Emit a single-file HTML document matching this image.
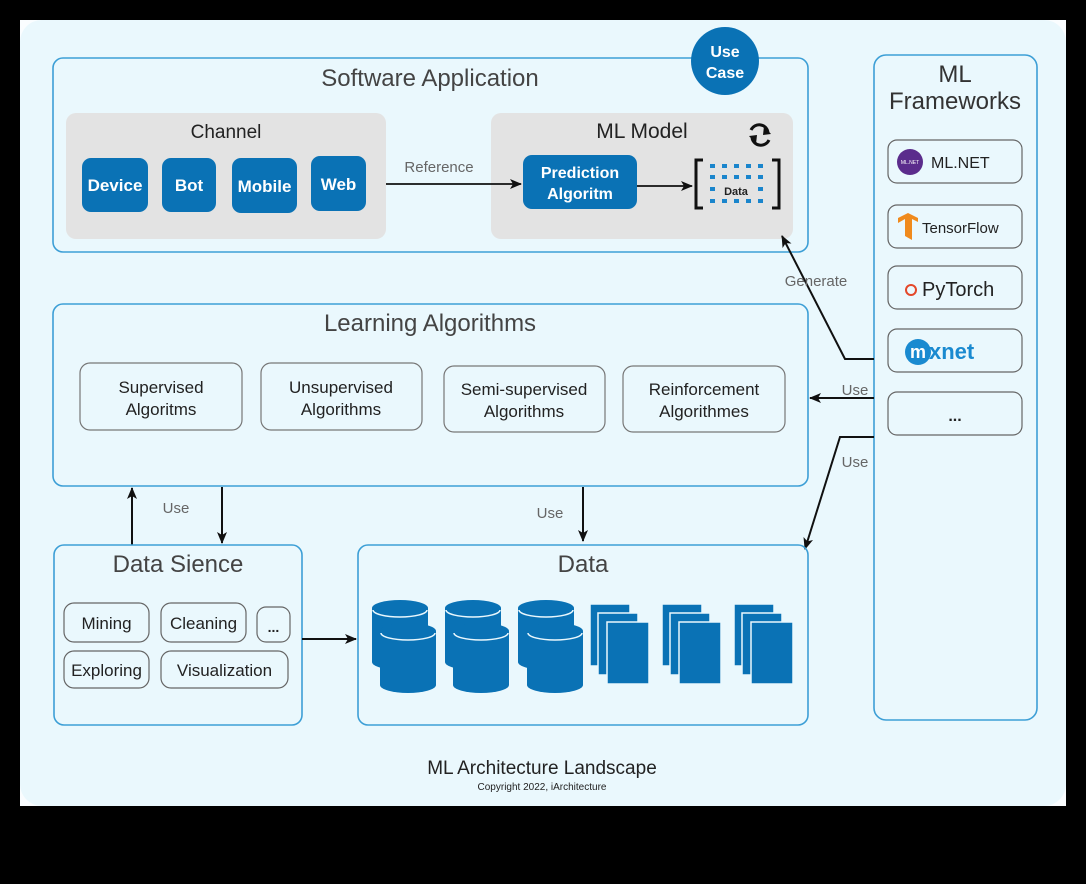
<!DOCTYPE html>
<html><head><meta charset="utf-8"><style>
html,body{margin:0;padding:0;background:#000;}
svg{display:block;}
text{font-family:"Liberation Sans",sans-serif;}
</style></head><body>
<svg width="1086" height="884" viewBox="0 0 1086 884" xmlns="http://www.w3.org/2000/svg">
<defs>
<marker id="ah" markerWidth="14" markerHeight="12" refX="11" refY="5" orient="auto" markerUnits="userSpaceOnUse"><path d="M0,0 L12,5 L0,10 L3,5 Z" fill="#111"/></marker>
<g id="cyl">
<path d="M0,8 L0,62 A28,8 0 0 0 56,62 L56,8 Z" fill="#0a72b5"/>
<ellipse cx="28" cy="8" rx="28" ry="8" fill="#0a72b5"/>
<path d="M1,10 A27,7 0 0 0 55,10" fill="none" stroke="#e9f7fd" stroke-width="1.5"/>
</g>
<g id="docs">
<rect x="0" y="0" width="40" height="62" fill="#0a72b5" stroke="#e9f7fd" stroke-width="1.5"/>
<rect x="8" y="9" width="40" height="62" fill="#0a72b5" stroke="#e9f7fd" stroke-width="1.5"/>
<rect x="17" y="18" width="42" height="62" fill="#0a72b5" stroke="#e9f7fd" stroke-width="1.5"/>
</g>
</defs>
<rect x="20" y="20" width="1046" height="786" fill="#fafdff"/>
<rect x="20" y="20" width="1046" height="786" rx="22" fill="#eaf8fd"/>

<!-- Software Application -->
<rect x="53" y="58" width="755" height="194" rx="10" fill="none" stroke="#3d9fd6" stroke-width="1.6"/>
<text x="430" y="86" font-size="24" fill="#444" text-anchor="middle">Software Application</text>
<rect x="66" y="113" width="320" height="126" rx="10" fill="#e3e3e3"/>
<text x="226" y="138" font-size="19" fill="#222" text-anchor="middle">Channel</text>
<g font-weight="bold" font-size="17" fill="#fff" text-anchor="middle">
<rect x="82" y="158" width="66" height="54" rx="9" fill="#0a72b5"/><text x="115" y="191">Device</text>
<rect x="162" y="158" width="54" height="54" rx="9" fill="#0a72b5"/><text x="189" y="191">Bot</text>
<rect x="232" y="158" width="65" height="55" rx="9" fill="#0a72b5"/><text x="264.5" y="192">Mobile</text>
<rect x="311" y="156" width="55" height="55" rx="9" fill="#0a72b5"/><text x="338.5" y="190">Web</text>
</g>
<rect x="491" y="113" width="302" height="126" rx="10" fill="#e3e3e3"/>
<line x1="386" y1="184" x2="521" y2="184" stroke="#111" stroke-width="1.8" marker-end="url(#ah)"/>
<text x="439" y="172" font-size="15" fill="#666" text-anchor="middle">Reference</text>
<text x="642" y="138" font-size="21" fill="#222" text-anchor="middle">ML Model</text>
<g fill="none" stroke="#111" stroke-width="3">
<path d="M751,130 A9,9 0 0 1 768,132"/><path d="M769,140 A9,9 0 0 1 752,138"/>
</g>
<path d="M764,126 L771,134 L763,135 Z" fill="#111"/><path d="M756,144 L749,136 L757,135 Z" fill="#111"/>
<rect x="523" y="155" width="114" height="54" rx="9" fill="#0a72b5"/>
<text x="580" y="178" font-size="16" font-weight="bold" fill="#fff" text-anchor="middle">Prediction</text>
<text x="580" y="199" font-size="16" font-weight="bold" fill="#fff" text-anchor="middle">Algoritm</text>
<line x1="637" y1="186" x2="692" y2="186" stroke="#111" stroke-width="1.8" marker-end="url(#ah)"/>
<path d="M703,160 L696,160 L696,208 L703,208" fill="none" stroke="#111" stroke-width="3"/>
<path d="M772,160 L779,160 L779,208 L772,208" fill="none" stroke="#111" stroke-width="3"/>
<g fill="#1a85cc">
<rect x="710" y="164" width="5" height="4"/><rect x="722" y="164" width="5" height="4"/><rect x="734" y="164" width="5" height="4"/><rect x="746" y="164" width="5" height="4"/><rect x="758" y="164" width="5" height="4"/>
<rect x="710" y="175" width="5" height="4"/><rect x="722" y="175" width="5" height="4"/><rect x="734" y="175" width="5" height="4"/><rect x="746" y="175" width="5" height="4"/><rect x="758" y="175" width="5" height="4"/>
<rect x="710" y="187" width="5" height="4"/><rect x="758" y="187" width="5" height="4"/>
<rect x="710" y="199" width="5" height="4"/><rect x="722" y="199" width="5" height="4"/><rect x="734" y="199" width="5" height="4"/><rect x="746" y="199" width="5" height="4"/><rect x="758" y="199" width="5" height="4"/>
</g>
<text x="736" y="195" font-size="11" font-weight="bold" fill="#222" text-anchor="middle">Data</text>
<circle cx="725" cy="61" r="34" fill="#0a72b5"/>
<text x="725" y="57" font-size="16" font-weight="bold" fill="#fff" text-anchor="middle">Use</text>
<text x="725" y="78" font-size="16" font-weight="bold" fill="#fff" text-anchor="middle">Case</text>

<!-- ML Frameworks -->
<rect x="874" y="55" width="163" height="665" rx="12" fill="none" stroke="#3d9fd6" stroke-width="1.6"/>
<text x="955" y="82" font-size="24" fill="#333" text-anchor="middle">ML</text>
<text x="955" y="109" font-size="24" fill="#333" text-anchor="middle">Frameworks</text>
<g fill="none" stroke="#666" stroke-width="1.2">
<rect x="888" y="140" width="134" height="43" rx="9"/>
<rect x="888" y="205" width="134" height="43" rx="9"/>
<rect x="888" y="266" width="134" height="43" rx="9"/>
<rect x="888" y="329" width="134" height="43" rx="9"/>
<rect x="888" y="392" width="134" height="43" rx="9"/>
</g>
<circle cx="910" cy="162" r="13" fill="#5b2c8c"/>
<text x="910" y="164" font-size="5" fill="#fff" text-anchor="middle">ML.NET</text>
<text x="931" y="168" font-size="16" fill="#222">ML.NET</text>
<path d="M898,218 L908,213 L918,218 L918,222 L912,219 L912,240 L905,236 L905,219 L898,223 Z" fill="#f08a1c"/>
<text x="922" y="233" font-size="15" fill="#222">TensorFlow</text>
<circle cx="911" cy="290" r="5" fill="none" stroke="#e4482a" stroke-width="2"/>
<text x="922" y="296" font-size="20" fill="#222">PyTorch</text>
<circle cx="918" cy="352" r="13" fill="#1a8ad0"/>
<text x="918" y="358" font-size="18" font-family="Liberation Serif" font-weight="bold" fill="#fff" text-anchor="middle">m</text>
<text x="929" y="359" font-size="22" font-family="Liberation Serif" font-weight="bold" fill="#1a8ad0">xnet</text>
<text x="955" y="421" font-size="16" font-weight="bold" fill="#222" text-anchor="middle">...</text>

<!-- Learning Algorithms -->
<rect x="53" y="304" width="755" height="182" rx="10" fill="none" stroke="#3d9fd6" stroke-width="1.6"/>
<text x="430" y="331" font-size="24" fill="#444" text-anchor="middle">Learning Algorithms</text>
<g fill="none" stroke="#777" stroke-width="1.2">
<rect x="80" y="363" width="162" height="67" rx="10"/>
<rect x="261" y="363" width="161" height="67" rx="10"/>
<rect x="444" y="366" width="161" height="66" rx="10"/>
<rect x="623" y="366" width="162" height="66" rx="10"/>
</g>
<g font-size="17" fill="#222" text-anchor="middle">
<text x="161" y="393">Supervised</text><text x="161" y="415">Algoritms</text>
<text x="341" y="393">Unsupervised</text><text x="341" y="415">Algorithms</text>
<text x="524" y="395">Semi-supervised</text><text x="524" y="417">Algorithms</text>
<text x="704" y="395">Reinforcement</text><text x="704" y="417">Algorithmes</text>
</g>

<!-- connectors right -->
<polyline points="874,359 845,359 782,236" fill="none" stroke="#111" stroke-width="2" marker-end="url(#ah)"/>
<text x="816" y="286" font-size="15" fill="#666" text-anchor="middle">Generate</text>
<line x1="874" y1="398" x2="810" y2="398" stroke="#111" stroke-width="2" marker-end="url(#ah)"/>
<text x="855" y="395" font-size="15" fill="#666" text-anchor="middle">Use</text>
<polyline points="874,437 840,437 805,549" fill="none" stroke="#111" stroke-width="2" marker-end="url(#ah)"/>
<text x="855" y="467" font-size="15" fill="#666" text-anchor="middle">Use</text>

<!-- vertical connectors -->
<line x1="132" y1="545" x2="132" y2="488" stroke="#111" stroke-width="2" marker-end="url(#ah)"/>
<line x1="222" y1="487" x2="222" y2="543" stroke="#111" stroke-width="2" marker-end="url(#ah)"/>
<text x="176" y="513" font-size="15" fill="#666" text-anchor="middle">Use</text>
<line x1="583" y1="487" x2="583" y2="541" stroke="#111" stroke-width="2" marker-end="url(#ah)"/>
<text x="550" y="518" font-size="15" fill="#666" text-anchor="middle">Use</text>

<!-- Data Sience -->
<rect x="54" y="545" width="248" height="180" rx="10" fill="none" stroke="#3d9fd6" stroke-width="1.6"/>
<text x="178" y="572" font-size="24" fill="#444" text-anchor="middle">Data Sience</text>
<g fill="none" stroke="#666" stroke-width="1.2">
<rect x="64" y="603" width="85" height="39" rx="10"/>
<rect x="161" y="603" width="85" height="39" rx="10"/>
<rect x="257" y="607" width="33" height="35" rx="9"/>
<rect x="64" y="651" width="85" height="37" rx="10"/>
<rect x="161" y="651" width="127" height="37" rx="10"/>
</g>
<g font-size="17" fill="#222" text-anchor="middle">
<text x="106.5" y="629">Mining</text>
<text x="203.5" y="629">Cleaning</text>
<text x="273.5" y="632" font-size="14" font-weight="bold">...</text>
<text x="106.5" y="676">Exploring</text>
<text x="224.5" y="676">Visualization</text>
</g>
<line x1="302" y1="639" x2="356" y2="639" stroke="#111" stroke-width="2" marker-end="url(#ah)"/>

<!-- Data -->
<rect x="358" y="545" width="450" height="180" rx="10" fill="none" stroke="#3d9fd6" stroke-width="1.6"/>
<text x="583" y="572" font-size="24" fill="#444" text-anchor="middle">Data</text>
<use href="#cyl" x="372" y="600"/><use href="#cyl" x="380" y="623"/>
<use href="#cyl" x="445" y="600"/><use href="#cyl" x="453" y="623"/>
<use href="#cyl" x="518" y="600"/><use href="#cyl" x="527" y="623"/>
<use href="#docs" x="590" y="604"/>
<use href="#docs" x="662" y="604"/>
<use href="#docs" x="734" y="604"/>

<text x="542" y="774" font-size="19" fill="#222" text-anchor="middle">ML Architecture Landscape</text>
<text x="542" y="790" font-size="10" fill="#222" text-anchor="middle">Copyright 2022, iArchitecture</text>
</svg>
</body></html>
